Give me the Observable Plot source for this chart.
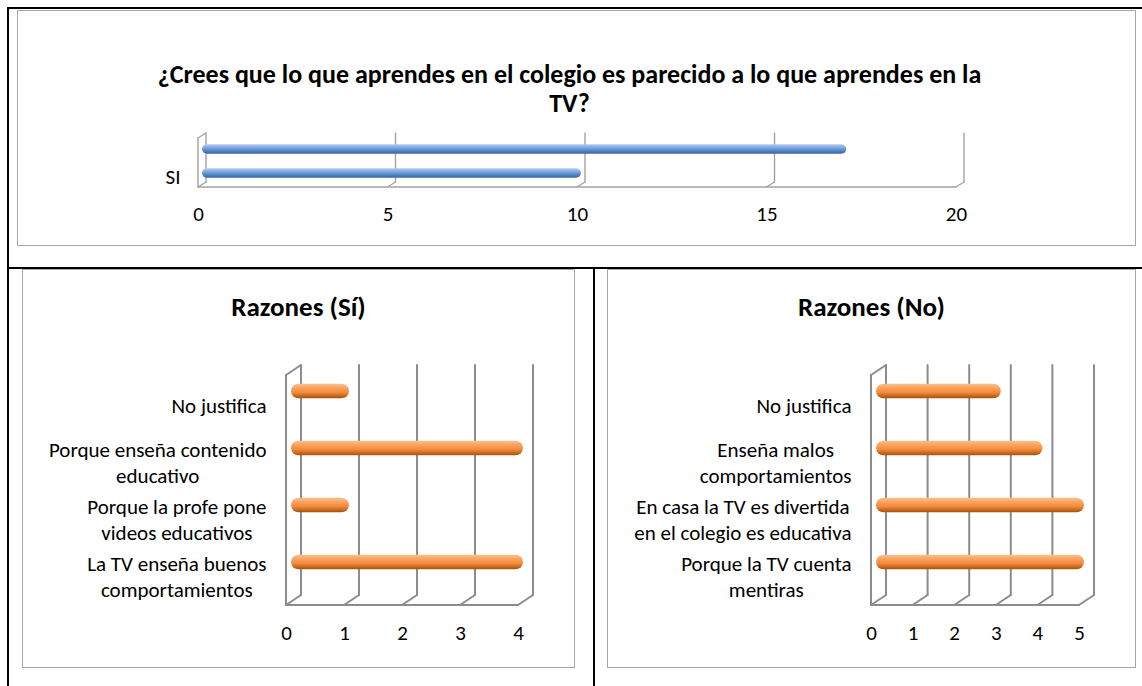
<!DOCTYPE html>
<html><head><meta charset="utf-8">
<script src="https://cdn.jsdelivr.net/npm/d3@7"></script>
<script src="https://cdn.jsdelivr.net/npm/@observablehq/plot@0.6"></script>
<style>
body{margin:0;background:#fff;}
#page{position:relative;width:1142px;height:686px;overflow:hidden;font-family:Carlito,Calibri,Lato,sans-serif;color:#000;background:#fff;}
.bl{position:absolute;background:#000;}
.frame{position:absolute;border:1.5px solid #a6a6a6;box-sizing:border-box;}
.title{position:absolute;font-weight:bold;text-align:center;white-space:nowrap;}
.chart{position:absolute;}
</style></head><body>
<div id="page">
  <div class="frame" style="left:17px;top:10px;width:1119px;height:236px"></div>
  <div class="frame" style="left:22px;top:269px;width:553px;height:399px"></div>
  <div class="frame" style="left:607px;top:269px;width:529px;height:399px"></div>
  <div class="bl" style="left:7px;top:7px;width:1135px;height:2px"></div>
  <div class="bl" style="left:7px;top:7px;width:2px;height:679px"></div>
  <div class="bl" style="left:7px;top:267px;width:1135px;height:2px"></div>
  <div class="bl" style="left:593px;top:267px;width:2px;height:419px"></div>
  <div class="title" id="t1" style="left:10px;top:60px;width:1119px;font-size:26px;line-height:29px"></div>
  <div class="title" id="t2" style="left:22px;top:290px;width:553px;font-size:27px;line-height:34px"></div>
  <div class="title" id="t3" style="left:607px;top:290px;width:529px;font-size:27px;line-height:34px"></div>
  <div class="chart" id="c1" style="left:17px;top:120px"></div>
  <div class="chart" id="c2" style="left:22px;top:269px"></div>
  <div class="chart" id="c3" style="left:607px;top:269px"></div>
</div>
<svg width="0" height="0" style="position:absolute">
  <defs>
    <linearGradient id="gBlue" x1="0" y1="0" x2="0" y2="1">
      <stop offset="0" stop-color="#b4cdee"/>
      <stop offset="0.3" stop-color="#86aee2"/>
      <stop offset="0.6" stop-color="#5b8fd3"/>
      <stop offset="1" stop-color="#35649f"/>
    </linearGradient>
    <linearGradient id="gOrange" x1="0" y1="0" x2="0" y2="1">
      <stop offset="0" stop-color="#fcc08f"/>
      <stop offset="0.3" stop-color="#f9a25c"/>
      <stop offset="0.6" stop-color="#f38a3c"/>
      <stop offset="1" stop-color="#a8510b"/>
    </linearGradient>
  </defs>
</svg>
<script>
// ---------- data ----------
const mainTitle = "¿Crees que lo que aprendes en el colegio es parecido a lo que aprendes en la\nTV?";
const mainCategories = ["SI", "NO"];
const mainValues = [10, 17];
const mainShownLabels = ["SI"];
const mainTicks = [0, 5, 10, 15, 20];

const siTitle = "Razones (Sí)";
const siReasons = ["La TV enseña buenos\ncomportamientos", "Porque la profe pone\nvideos educativos", "Porque enseña contenido\neducativo", "No justifica"];
const siValues = [4, 1, 4, 1];
const siTicks = [0, 1, 2, 3, 4];

const noTitle = "Razones (No)";
const noReasons = ["Porque la TV cuenta\nmentiras", "En casa la TV es divertida\nen el colegio es educativa", "Enseña malos\ncomportamientos", "No justifica"];
const noValues = [5, 5, 4, 3];
const noTicks = [0, 1, 2, 3, 4, 5];

// ---------- helpers ----------
const FONT = "Carlito, Calibri, Lato, sans-serif";
const FS = 21;
const ctx = document.createElement("canvas").getContext("2d");
function textW(s) { ctx.font = `${FS}px ${FONT}`; return ctx.measureText(s).width; }

function box3d(ticks, dx, dy, stroke, sw) {
  return function(index, scales, values, dims) {
    const x = scales.x;
    const top = dims.marginTop, bottom = dims.height - dims.marginBottom;
    const g = d3.create("svg:g").attr("fill", "none").attr("stroke", stroke).attr("stroke-width", sw).attr("stroke-linecap", "round");
    const seg = (x1, y1, x2, y2) => g.append("line").attr("x1", x1).attr("y1", y1).attr("x2", x2).attr("y2", y2);
    const x0 = x(ticks[0]), xn = x(ticks[ticks.length - 1]);
    seg(x0, top, x0, bottom);
    seg(x0, top, x0 + dx, top + dy);
    seg(x0, bottom, xn, bottom);
    for (const t of ticks) {
      const xt = x(t);
      seg(xt + dx, top + dy, xt + dx, bottom + dy);
      seg(xt, bottom, xt + dx, bottom + dy);
    }
    return g.node();
  };
}

function chart3d(o) {
  const data = o.cats.map((c, i) => ({c, v: o.vals[i]}));
  const [mt, mr, mb, ml] = o.margins;
  const band = (o.height - mt - mb) / o.cats.length;
  const inset = (band - o.thick) / 2;
  const marks = [
    box3d(o.ticks, o.dx3, o.dy3, o.gridStroke, o.gridWidth),
    Plot.barX(data, {x: "v", y: "c", fill: o.fill, rx: o.thick / 2, insetTop: inset, insetBottom: inset, dx: o.barDx, dy: o.barDy}),
  ];
  for (const lab of o.labels) {
    const w = d3.max(lab.split("\n"), textW);
    marks.push(Plot.text([lab], {y: d => d, text: d => d, frameAnchor: "left", textAnchor: "middle", dx: -(o.labelGap + w / 2), lineHeight: 1.24, fill: "#000"}));
  }
  return Plot.plot({
    width: o.width, height: o.height,
    marginTop: mt, marginRight: mr, marginBottom: mb, marginLeft: ml,
    x: {domain: [o.ticks[0], o.ticks[o.ticks.length - 1]], ticks: o.ticks, tickFormat: d => String(d), tickSize: 0, tickPadding: o.tickPad, label: null},
    y: {domain: o.cats.slice().reverse(), padding: 0, axis: null},
    style: {fontFamily: FONT, fontSize: FS + "px", background: "transparent", overflow: "visible", color: "#000"},
    marks
  });
}

// titles
document.getElementById("t1").innerText = mainTitle;
document.getElementById("t2").innerText = siTitle;
document.getElementById("t3").innerText = noTitle;

document.getElementById("c1").append(chart3d({
  cats: mainCategories, vals: mainValues, ticks: mainTicks, labels: mainShownLabels,
  width: 1119, height: 126, margins: [18, 180, 59, 181],
  dx3: 8, dy3: -5, barDx: 4, barDy: -2, thick: 10, fill: "url(#gBlue)",
  gridStroke: "#a3a3a3", gridWidth: 1.4, tickPad: 19, labelGap: 18
}));

document.getElementById("c2").append(chart3d({
  cats: siReasons, vals: siValues, ticks: siTicks, labels: siReasons,
  width: 553, height: 399, margins: [106, 57, 63, 264],
  dx3: 15, dy3: -10, barDx: 5, barDy: -13.5, thick: 15, fill: "url(#gOrange)",
  gridStroke: "#8c8c8c", gridWidth: 2, tickPad: 20, labelGap: 20
}));

document.getElementById("c3").append(chart3d({
  cats: noReasons, vals: noValues, ticks: noTicks, labels: noReasons,
  width: 529, height: 399, margins: [106, 57, 63, 264],
  dx3: 15, dy3: -10, barDx: 5, barDy: -13.5, thick: 15, fill: "url(#gOrange)",
  gridStroke: "#8c8c8c", gridWidth: 2, tickPad: 20, labelGap: 20
}));
</script>
</body></html>
